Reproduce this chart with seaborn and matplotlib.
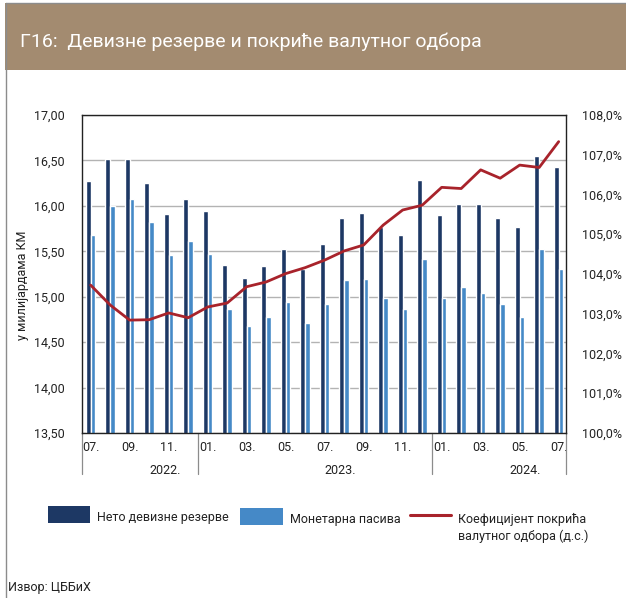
import numpy as np
import pandas as pd
import matplotlib
matplotlib.use("Agg")
import matplotlib.pyplot as plt
from matplotlib.patches import Rectangle
from matplotlib.lines import Line2D
from matplotlib.ticker import FuncFormatter, MultipleLocator
import seaborn as sns

# data (billions KM / percent)
months = ['07.', '08.', '09.', '10.', '11.', '12.',
          '01.', '02.', '03.', '04.', '05.', '06.', '07.', '08.', '09.', '10.', '11.', '12.',
          '01.', '02.', '03.', '04.', '05.', '06.', '07.']
years = ['2022.'] * 6 + ['2023.'] * 12 + ['2024.'] * 7
net_reserves = [16.27, 16.52, 16.52, 16.25, 15.91, 16.07, 15.94, 15.35, 15.21, 15.34, 15.53, 15.31,
                15.58, 15.87, 15.92, 15.77, 15.68, 16.29, 15.90, 16.02, 16.02, 15.87, 15.77, 16.55, 16.43]
monetary_liab = [15.68, 16.00, 16.08, 15.82, 15.46, 15.61, 15.47, 14.87, 14.68, 14.78, 14.94, 14.71,
                 14.92, 15.18, 15.20, 14.99, 14.87, 15.41, 14.99, 15.11, 15.04, 14.92, 14.78, 15.52, 15.31]
coverage = [103.72, 103.22, 102.84, 102.85, 103.02, 102.90, 103.17, 103.27, 103.68, 103.80, 104.01, 104.16,
            104.35, 104.58, 104.73, 105.23, 105.61, 105.73, 106.18, 106.15, 106.62, 106.41, 106.74, 106.68, 107.33]

series_names = ['Нето девизне резерве', 'Монетарна пасива']
line_name = 'Коефицијент покрића\nвалутног одбора (д.с.)'
title = 'Г16:  Девизне резерве и покриће валутног одбора'

DARK = '#1d3864'
LIGHT = '#4589c7'
RED = '#a8232b'
BANNER = '#a38b70'

W, H = 626, 598
sns.set_theme(style='white')
plt.rcParams['font.family'] = ['Roboto', 'DejaVu Sans']

keys = [m + y for m, y in zip(months, years)]
df = pd.DataFrame({
    'key': keys * 2,
    'series': [series_names[0]] * len(keys) + [series_names[1]] * len(keys),
    'value': net_reserves + monetary_liab,
})


def fx(x):
    return x / W


def fy(y):
    return 1 - y / H


fig = plt.figure(figsize=(W / 100, H / 100), dpi=100)
ax = fig.add_axes([fx(81.7), fy(433), (565.7 - 81.7) / W, (433 - 115) / H])

sns.barplot(data=df, x='key', y='value', hue='series', order=keys,
            palette=[DARK, LIGHT], width=0.48, gap=0, legend=False,
            saturation=1, ax=ax, zorder=2)
ax.set_ylim(13.5, 17.0)
ax.set_xlim(-0.46, 24.36)
ax.yaxis.set_major_locator(MultipleLocator(0.5))
ax.yaxis.set_major_formatter(FuncFormatter(lambda v, p: f'{v:.2f}'.replace('.', ',')))
ax.grid(axis='y', color='#b3b3b3', lw=1.0, zorder=0)
ax.grid(axis='x', visible=False)
ax.set_axisbelow(True)
ax.set_xlabel('')
ax.set_ylabel('')
ax.set_xticks(range(0, len(keys), 2))
ax.set_xticklabels(months[::2])
ax.tick_params(axis='x', length=0, pad=6, labelsize=9, colors='#222222')
ax.tick_params(axis='y', length=0, pad=12, labelsize=9, colors='#222222')
for s in ax.spines.values():
    s.set_color('#222222')
    s.set_linewidth(1.0)

ax2 = ax.twinx()
sns.lineplot(x=np.arange(len(keys)), y=coverage, color=RED, lw=2.0, ax=ax2, zorder=3)
ax2.lines[0].set_solid_joinstyle('round')
ax2.set_ylim(100, 108)
ax2.yaxis.set_major_locator(MultipleLocator(1))
ax2.yaxis.set_major_formatter(FuncFormatter(lambda v, p: f'{v:.1f}%'.replace('.', ',')))
ax2.tick_params(axis='y', length=0, pad=12, labelsize=9, colors='#222222')
ax2.grid(False)
for s in ax2.spines.values():
    s.set_visible(False)
ax2.set_xlim(ax.get_xlim())

# year separators and year labels under the axis
trans = ax.get_xaxis_transform()
drop = -(474 - 433) / (433 - 115)
for xb in [-0.46, 5.5, 17.5, 24.36]:
    ax.plot([xb, xb], [0, drop], transform=trans, color='#8c8c8c', lw=0.9, clip_on=False)
year_list = ['2022.', '2023.', '2024.']
for yr in year_list:
    idx = [i for i, y in enumerate(years) if y == yr]
    xc = (idx[0] + idx[-1]) / 2 + 1.3
    ax.text(xc, -(471 - 433) / (433 - 115), yr, transform=trans, ha='center', va='center',
            fontsize=9, color='#222222')

# left axis title
fig.text(fx(23), fy(285), 'у милијардама КМ', rotation=90, ha='center', va='center',
         fontsize=9, color='#222222')

# banner and frame
fig.add_artist(Rectangle((fx(5), fy(70)), 1 - fx(5), (70 - 3) / H, transform=fig.transFigure,
                         facecolor=BANNER, edgecolor='none'))
fig.add_artist(Line2D([fx(5.5), fx(5.5)], [0, fy(3)], transform=fig.transFigure, color='#8c8c8c', lw=1))
fig.add_artist(Line2D([fx(5.5), 1], [fy(3), fy(3)], transform=fig.transFigure, color='#8c8c8c', lw=1))
fig.text(fx(20), fy(42), title, color='white', fontsize=14, ha='left', va='center')

# legend drawn by hand to match the layout
fig.add_artist(Rectangle((fx(48), fy(523)), 42 / W, 17 / H, transform=fig.transFigure,
                         facecolor=DARK, edgecolor='none'))
fig.text(fx(97), fy(517), series_names[0], fontsize=9, ha='left', va='center', color='#222222')
fig.add_artist(Rectangle((fx(240), fy(525)), 43 / W, 17 / H, transform=fig.transFigure,
                         facecolor=LIGHT, edgecolor='none'))
fig.text(fx(290), fy(519), series_names[1], fontsize=9, ha='left', va='center', color='#222222')
fig.add_artist(Line2D([fx(410), fx(451)], [fy(515), fy(515)], transform=fig.transFigure,
                      color=RED, lw=2.2))
fig.text(fx(458), fy(528), line_name, fontsize=9, ha='left', va='center', color='#222222',
         linespacing=1.35)

fig.text(fx(8), fy(588), 'Извор: ЦББиХ', fontsize=9, ha='left', va='center', color='#222222')

fig.savefig('out.png', dpi=100)
